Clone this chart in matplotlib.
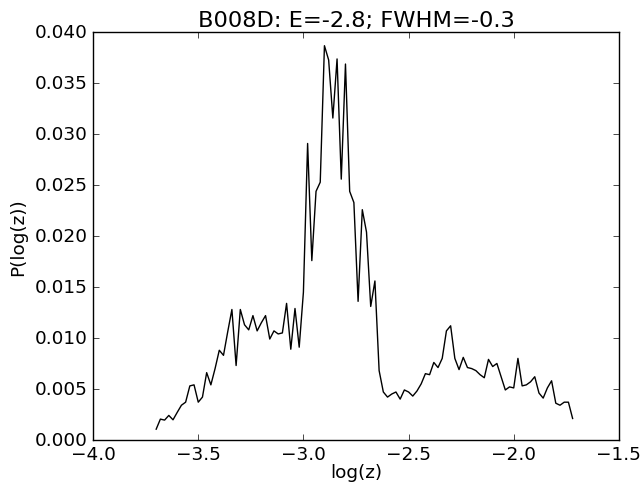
import numpy as np
import matplotlib
matplotlib.use("Agg")
import matplotlib.pyplot as plt
from matplotlib.ticker import FuncFormatter

# =========================
# data
# =========================
x_start = -3.70
x_step = 0.02

prob = [
    0.00105, 0.00204, 0.00194, 0.0024, 0.00197, 0.0027, 0.0034, 0.0037, 0.0053, 0.0054,
    0.0037, 0.0042, 0.0066, 0.0054, 0.0070, 0.0088, 0.0083, 0.0106, 0.0128, 0.0073,
    0.0128, 0.0113, 0.0108, 0.0122, 0.0107, 0.0115, 0.0122, 0.0099, 0.0107, 0.0104,
    0.0105, 0.0134, 0.0089, 0.0129, 0.0091, 0.0145, 0.0291, 0.0176, 0.0244, 0.0253,
    0.0387, 0.0373, 0.0316, 0.0374, 0.0256, 0.0369, 0.0244, 0.0233, 0.0136, 0.0226,
    0.0204, 0.0131, 0.0156, 0.0068, 0.0047, 0.0042, 0.0045, 0.0047, 0.0040, 0.0049,
    0.0047, 0.0043, 0.0048, 0.0055, 0.0065, 0.0064, 0.0076, 0.0071, 0.0080, 0.0107,
    0.0112, 0.0080, 0.0069, 0.0081, 0.0071, 0.0070, 0.0068, 0.0064, 0.0061, 0.0079,
    0.0072, 0.0075, 0.0062, 0.0049, 0.0052, 0.0051, 0.0080, 0.0053, 0.0054, 0.0057,
    0.0062, 0.0046, 0.0041, 0.0051, 0.0058, 0.0036, 0.0034, 0.0037, 0.0037, 0.0021,
]
log_z = x_start + x_step * np.arange(len(prob))

title = "B008D: E=-2.8; FWHM=-0.3"

# =========================
# plot
# =========================
plt.style.use("classic")
plt.rcParams["font.size"] = 13.3

fig, ax = plt.subplots(figsize=(6.42, 4.85), dpi=100)
fig.patch.set_facecolor("white")

ax.plot(log_z, prob, color="black", linewidth=1.0)

ax.set_xlim(-4.0, -1.5)
ax.set_ylim(0.0, 0.040)
ax.set_xticks(np.arange(-4.0, -1.49, 0.5))
ax.set_yticks(np.arange(0.0, 0.0401, 0.005))
ax.yaxis.set_major_formatter(FuncFormatter(lambda v, p: f"{v:.3f}"))
ax.xaxis.set_major_formatter(FuncFormatter(lambda v, p: f"{v:.1f}".replace("-", "\u2212")))
ax.tick_params(axis="both", which="major", labelsize=13.3, direction="in")

ax.set_xlabel("log(z)", fontsize=13.3, labelpad=0)
ax.set_ylabel("P(log(z))", fontsize=13.3)
ax.set_title(title, fontsize=16.2)

fig.subplots_adjust(left=0.145, right=0.964, bottom=0.091, top=0.931)

plt.savefig("out.png", dpi=100)
plt.close(fig)
